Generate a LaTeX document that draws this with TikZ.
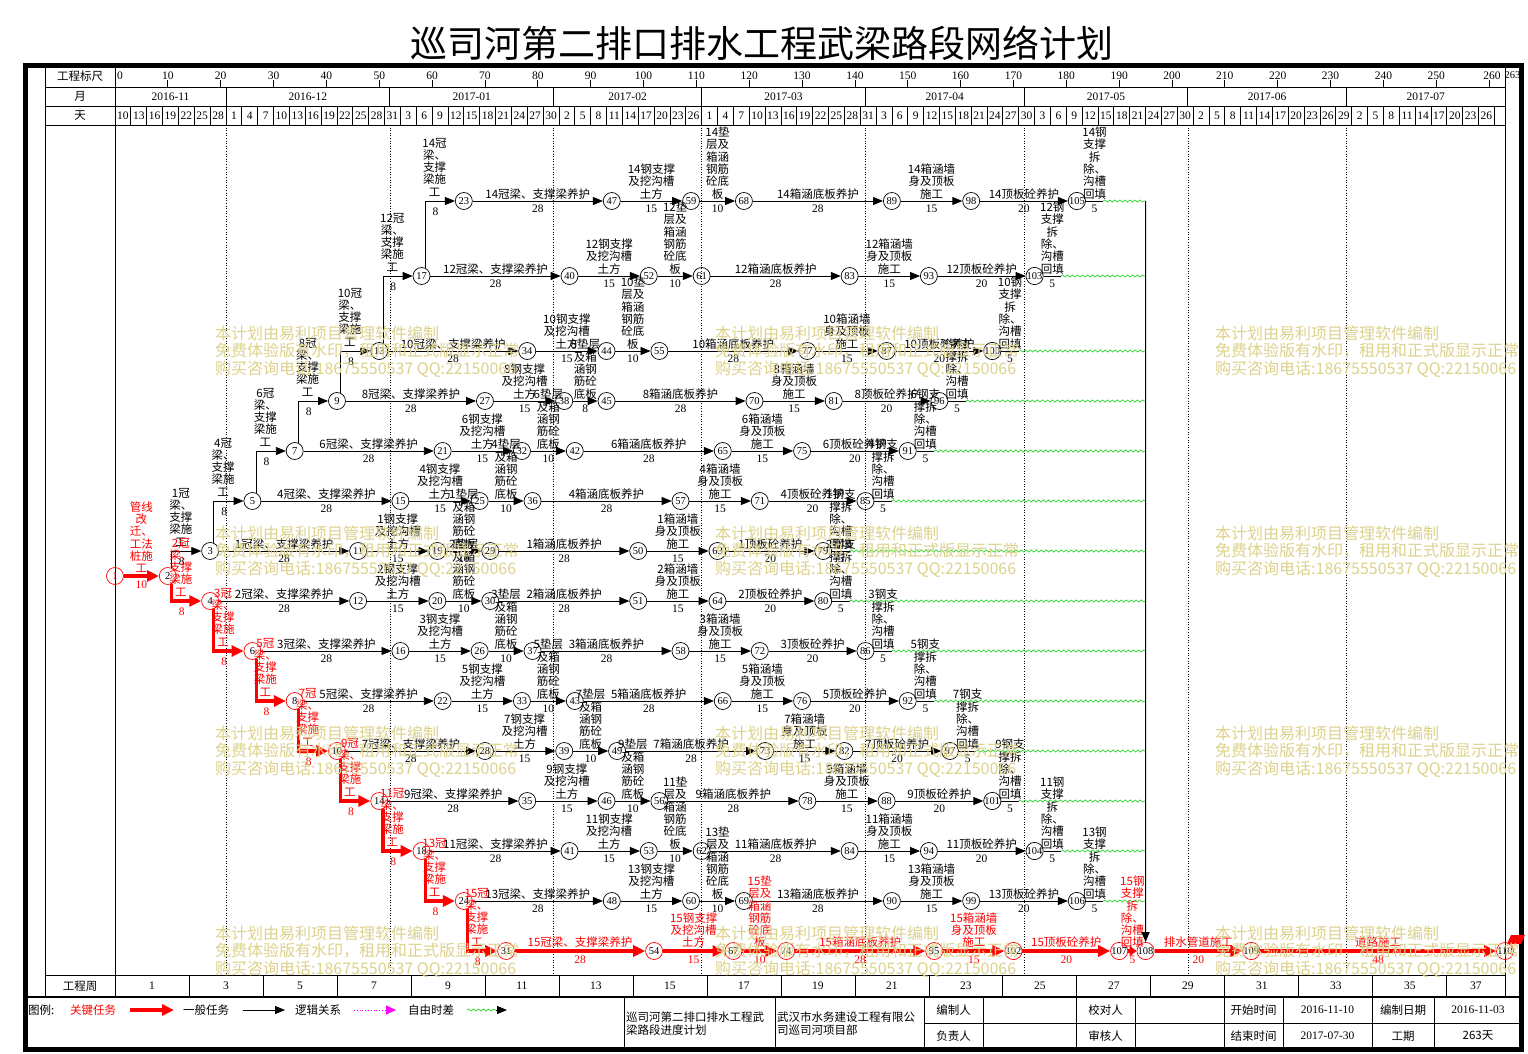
\documentclass[tikz,border=0pt]{standalone}
\usepackage{fontspec}
\setmainfont{Noto Sans CJK SC}
\newfontfamily\numf{Liberation Serif}
\usetikzlibrary{arrows.meta,decorations.pathmorphing,calc,shapes.geometric}
\definecolor{crit}{RGB}{255,0,0}
\definecolor{wmk}{RGB}{221,210,140}
\definecolor{flt}{RGB}{20,210,20}
\definecolor{mag}{RGB}{255,0,255}
\newcommand\vconn[7]{%
  \draw[#1] (n#2.#4) |- (n#3);
  \node[#6,anchor=south] at ($(n#2.center|-n#3.center)+(13,-4)$) {#5};
  \node[#7] at ($(n#2.center|-n#3.center)+(14,11)$) {8};
}
\begin{document}
\begin{tikzpicture}[x=1pt,y=-1pt,
 ev/.style={circle,draw=black,line width=0.7pt,minimum size=17pt,inner sep=0pt,font=\numf\fontsize{10.5}{10.5}\selectfont},
 evc/.style={ev,draw=crit},
 act/.style={draw=black,line width=0.9pt,-{Triangle[length=10pt,width=8pt]}},
 cact/.style={draw=crit,line width=3.2pt,-{Triangle[length=12pt,width=11pt]}},
 cacts/.style={draw=crit,line width=3.2pt,-{Triangle[length=7pt,width=10pt]}},
 plain/.style={draw=black,line width=0.9pt},
 lab/.style={font=\fontsize{11.5}{12.3}\selectfont,align=center,inner sep=0.5pt},
 clab/.style={lab,text=crit},
 dur/.style={font=\numf\fontsize{11.5}{11.5}\selectfont,inner sep=0.5pt},
 cdur/.style={dur,text=crit},
 fl/.style={draw=flt,line width=0.6pt,decorate,decoration={snake,amplitude=1.1pt,segment length=5pt}},
 mline/.style={draw=black,line width=0.6pt,dotted},
 grid/.style={draw=black,line width=0.8pt},
 hdr/.style={font=\fontsize{11.5}{13}\selectfont,inner sep=0pt},
 hnum/.style={font=\numf\fontsize{11.5}{11.5}\selectfont,inner sep=0pt},
 wm/.style={font=\fontsize{16}{18}\selectfont,text=wmk,anchor=west,inner sep=0pt}]
\useasboundingbox (0,0) rectangle (1528,1054);
\fill[white] (0,0) rectangle (1528,1054);
% title
\node[font=\fontsize{37}{37}\selectfont,inner sep=0pt] (title) at (762,43) {巡司河第二排口排水工程武梁路段网络计划};
% frame and grid
\draw[line width=4.5pt] (25.5,65.5) rectangle (1521.5,1049.5);
\draw[grid] (45,65) -- (45,997);
\draw[grid] (115,65) -- (115,997);
\draw[grid] (1505,65) -- (1505,997);
\draw[grid] (45,87) -- (1505,87);
\draw[grid] (45,106) -- (1505,106);
\draw[grid] (45,125) -- (1505,125);
\draw[grid] (45,975) -- (1505,975);
\draw[line width=2.5pt] (25,997) -- (1522,997);
\node[hdr] (h1) at (80,76.5) {工程标尺};
\node[hdr] (h2) at (80,96.5) {月};
\node[hdr] (h3) at (80,115.5) {天};
\node[hdr] (h4) at (80,986) {工程周};
% scale
\foreach \v in {10,20,...,250}{\pgfmathsetmacro\xx{115+5.285*\v}
  \draw[grid] (\xx,80) -- (\xx,87); \node[hnum] at (\xx,75.5) {\v};}
\draw[grid] ({115+5.285*260},80) -- ({115+5.285*260},87);
\node[hnum] at ({115+5.285*260+3},75.5) {260};
\node[hnum,anchor=west] at (117,75.5) {0};
\node[hnum,anchor=west,font=\numf\fontsize{10.5}{10.5}\selectfont] at (1504.5,75.5) {263};
% months
\foreach \a/\b/\lab in {0/21/2016-11,21/52/2016-12,52/83/2017-01,83/111/2017-02,111/142/2017-03,142/172/2017-04,172/203/2017-05,203/233/2017-06,233/263/2017-07}{
  \pgfmathsetmacro\xl{115+5.285*\a}\pgfmathsetmacro\xr{115+5.285*\b}
  \node[hnum] at ({(\xl+\xr)/2},96.5) {\lab};
  \draw[grid] (\xr,87) -- (\xr,106);}
\foreach \b in {21,52,83,111,142,172,203,233}{\pgfmathsetmacro\xr{115+5.285*\b}
  \draw[mline] (\xr,125) -- (\xr,975);}
% days
\foreach \lab [count=\i from 0] in {10,13,16,19,22,25,28,1,4,7,10,13,16,19,22,25,28,31,3,6,9,12,15,18,21,24,27,30,2,5,8,11,14,17,20,23,26,1,4,7,10,13,16,19,22,25,28,31,3,6,9,12,15,18,21,24,27,30,3,6,9,12,15,18,21,24,27,30,2,5,8,11,14,17,20,23,26,29,2,5,8,11,14,17,20,23,26}{
  \pgfmathsetmacro\xl{115+5.285*3*\i}\pgfmathsetmacro\xr{\xl+5.285*3}
  \node[hnum] at ({(\xl+\xr)/2},115.5) {\lab};
  \draw[grid] (\xr,106) -- (\xr,125);}
% weeks
\foreach \w [count=\i from 0] in {1,3,...,37}{
  \pgfmathsetmacro\xl{115+73.99*\i}\pgfmathsetmacro\xr{min(\xl+73.99,1505)}
  \node[hnum] at ({(\xl+\xr)/2},986) {\w};
  \draw[grid] (\xl,975) -- (\xl,997);}
% network rows
\foreach \sn/\y/\dd/\dz/\ma/\mb/\mc/\md/\me/\mf/\mg/\crt in {
 1/551/18/10/3/11/19/29/50/63/79/0,
 2/601/18/10/4/12/20/30/51/64/80/1,
 3/651/26/10/6/16/26/37/58/72/86/1,
 4/501/26/10/5/15/25/36/57/71/85/0,
 5/701/34/10/8/22/33/43/66/76/92/1,
 6/451/34/10/7/21/32/42/65/75/91/0,
 7/751/42/10/10/28/39/49/73/82/97/1,
 8/401/42/8/9/27/38/45/70/81/96/0,
 9/801/50/10/14/35/46/56/78/88/101/1,
 10/351/50/10/13/34/44/55/77/87/100/0,
 11/851/58/10/18/41/53/62/84/94/104/1,
 12/276/58/10/17/40/52/61/83/93/103/0,
 13/901/66/10/24/48/60/69/90/99/106/1,
 14/201/66/10/23/47/59/68/89/98/105/0}{
  \pgfmathsetmacro\xa{115+5.285*\dd}
  \pgfmathsetmacro\xb{\xa+5.285*28}
  \pgfmathsetmacro\xc{\xb+5.285*15}
  \pgfmathsetmacro\xd{\xc+5.285*\dz}
  \pgfmathsetmacro\xe{\xd+5.285*28}
  \pgfmathsetmacro\xf{\xe+5.285*15}
  \pgfmathsetmacro\xg{\xf+5.285*20}
  \pgfmathsetmacro\xh{\xg+5.285*5}
  \ifnum\crt=1 \tikzset{rs/.style={evc}}\else\tikzset{rs/.style={ev}}\fi
  \ifnum\sn<10
    \def\labC{\sn{}垫层\\及箱\\涵钢\\筋砼\\底板}%
    \def\labG{\sn{}钢支\\撑拆\\除、\\沟槽\\回填}%
  \else
    \def\labC{\sn{}垫\\层及\\箱涵\\钢筋\\砼底\\板}%
    \def\labG{\sn{}钢\\支撑\\拆\\除、\\沟槽\\回填}%
  \fi
  \node[rs] (n\ma) at (\xa,\y) {\ma};
  \node[ev] (n\mb) at (\xb,\y) {\mb};
  \node[ev] (n\mc) at (\xc,\y) {\mc};
  \node[ev] (n\md) at (\xd,\y) {\md};
  \node[ev] (n\me) at (\xe,\y) {\me};
  \node[ev] (n\mf) at (\xf,\y) {\mf};
  \node[ev] (n\mg) at (\xg,\y) {\mg};
  \coordinate (e\sn) at (\xh,\y);
  \coordinate (w\sn) at (1145.6,\y);
  \draw[act] (n\ma) -- node[lab,above=1pt]{\sn{}冠梁、支撑梁养护} node[dur,below=3pt]{28} (n\mb);
  \draw[act] (n\mb) -- node[lab,above=1pt]{\sn{}钢支撑\\及挖沟槽\\土方} node[dur,below=3pt]{15} (n\mc);
  \draw[act] (n\mc) -- node[lab,above=1pt]{\labC} node[dur,below=3pt]{\dz} (n\md);
  \draw[act] (n\md) -- node[lab,above=1pt]{\sn{}箱涵底板养护} node[dur,below=3pt]{28} (n\me);
  \draw[act] (n\me) -- node[lab,above=1pt]{\sn{}箱涵墙\\身及顶板\\施工} node[dur,below=3pt]{15} (n\mf);
  \draw[act] (n\mf) -- node[lab,above=1pt]{\sn{}顶板砼养护} node[dur,below=3pt]{20} (n\mg);
  \draw[plain] (n\mg) -- node[lab,above=1pt]{\labG} node[dur,below=3pt]{5} (e\sn);
  \draw[fl] (e\sn) -- (w\sn);
}
% start nodes and critical row
\node[evc,text=crit] (n1) at (115,576) {1};
\node[evc] (n2) at ({115+5.285*10},576) {2};
\node[evc] (n31) at ({115+5.285*74},951) {31};
\node[evc] (n54) at ({115+5.285*102},951) {54};
\node[evc] (n67) at ({115+5.285*117},951) {67};
\node[evc] (n74) at ({115+5.285*127},951) {74};
\node[evc] (n95) at ({115+5.285*155},951) {95};
\node[evc] (n102) at ({115+5.285*170},951) {102};
\node[evc] (n107) at ({115+5.285*190},951) {107};
\node[evc] (n108) at ({115+5.285*195},951) {108};
\node[evc] (n109) at ({115+5.285*215},951) {109};
\node[evc] (n110) at ({115+5.285*263},951) {110};
\draw[cact] (n1) -- node[clab,above=1pt]{管线\\改\\迁、\\工法\\桩施\\工} node[cdur,below=3pt]{10} (n2);
\draw[cact] (n31) -- node[clab,above=1pt]{15冠梁、支撑梁养护} node[cdur,below=3pt]{28} (n54);
\draw[cact] (n54) -- node[clab,above=1pt]{15钢支撑\\及挖沟槽\\土方} node[cdur,below=3pt]{15} (n67);
\draw[cact] (n67) -- node[clab,above=1pt]{15垫\\层及\\箱涵\\钢筋\\砼底\\板} node[cdur,below=3pt]{10} (n74);
\draw[cact] (n74) -- node[clab,above=1pt]{15箱涵底板养护} node[cdur,below=3pt]{28} (n95);
\draw[cact] (n95) -- node[clab,above=1pt]{15箱涵墙\\身及顶板\\施工} node[cdur,below=3pt]{15} (n102);
\draw[cact] (n102) -- node[clab,above=1pt]{15顶板砼养护} node[cdur,below=3pt]{20} (n107);
\draw[cacts] (n107) -- node[clab,above=1pt]{15钢\\支撑\\拆\\除、\\沟槽\\回填} node[cdur,below=3pt]{5} (n108);
\draw[cact] (n108) -- node[clab,above=1pt]{排水管道施工} node[cdur,below=3pt]{20} (n109);
\draw[cact] (n109) -- node[clab,above=1pt]{道路施工} node[cdur,below=3pt]{48} (n110);
\fill[crit] (1511,935) -- (1525,935) -- (1521,944) -- (1507,944) -- cycle;
\coordinate (ftop) at (1145.6,201);
\draw[act] (ftop) -- (n108);
% vertical connectors
\vconn{act}{2}{3}{65}{1冠\\梁、\\支撑\\梁施\\工}{lab}{dur}
\vconn{act}{3}{5}{65}{4冠\\梁、\\支撑\\梁施\\工}{lab}{dur}
\vconn{act}{5}{7}{65}{6冠\\梁、\\支撑\\梁施\\工}{lab}{dur}
\vconn{act}{7}{9}{65}{8冠\\梁、\\支撑\\梁施\\工}{lab}{dur}
\vconn{act}{9}{13}{65}{10冠\\梁、\\支撑\\梁施\\工}{lab}{dur}
\vconn{act}{13}{17}{65}{12冠\\梁、\\支撑\\梁施\\工}{lab}{dur}
\vconn{act}{17}{23}{65}{14冠\\梁、\\支撑\\梁施\\工}{lab}{dur}
\vconn{cact}{2}{4}{-65}{2冠\\梁、\\支撑\\梁施\\工}{clab}{cdur}
\vconn{cact}{4}{6}{-65}{3冠\\梁、\\支撑\\梁施\\工}{clab}{cdur}
\vconn{cact}{6}{8}{-65}{5冠\\梁、\\支撑\\梁施\\工}{clab}{cdur}
\vconn{cact}{8}{10}{-65}{7冠\\梁、\\支撑\\梁施\\工}{clab}{cdur}
\vconn{cact}{10}{14}{-65}{9冠\\梁、\\支撑\\梁施\\工}{clab}{cdur}
\vconn{cact}{14}{18}{-65}{11冠\\梁、\\支撑\\梁施\\工}{clab}{cdur}
\vconn{cact}{18}{24}{-65}{13冠\\梁、\\支撑\\梁施\\工}{clab}{cdur}
\vconn{cact}{24}{31}{-65}{15冠\\梁、\\支撑\\梁施\\工}{clab}{cdur}
% legend
\node[hdr,anchor=west] (lg0) at (28,1010) {图例:};
\node[hdr,anchor=west,text=crit] (lg1) at (70,1010) {关键任务};
\coordinate (la1) at (130,1010); \coordinate (la2) at (174,1010);
\draw[cact] (la1) -- (la2);
\node[hdr,anchor=west] (lg2) at (183,1010) {一般任务};
\coordinate (lb1) at (243,1010); \coordinate (lb2) at (285,1010);
\draw[act] (lb1) -- (lb2);
\node[hdr,anchor=west] (lg3) at (295,1010) {逻辑关系};
\coordinate (lc1) at (354,1010); \coordinate (lc2) at (396,1010);
\draw[draw=mag,dotted,line width=0.8pt,-{Triangle[length=10pt,width=9pt,fill=mag]}] (lc1) -- (lc2);
\node[hdr,anchor=west] (lg4) at (408,1010) {自由时差};
\coordinate (ld1) at (467,1010); \coordinate (ld2) at (496,1010); \coordinate (ld3) at (507,1010);
\draw[fl] (ld1) -- (ld2);
\draw[act] (ld2) -- (ld3);
% info table
\foreach \xx in {624,775,924,983,1076,1135,1224,1283,1372,1434}{\draw[grid] (\xx,997) -- (\xx,1049);}
\draw[grid] (924,1023) -- (1521,1023);
\node[hdr,anchor=west,align=left] (t1) at (626,1023.5) {巡司河第二排口排水工程武\\梁路段进度计划};
\node[hdr,anchor=west,align=left] (t2) at (777,1023.5) {武汉市水务建设工程有限公\\司巡司河项目部};
\node[hdr] (t3) at (953.5,1010) {编制人};
\node[hdr] (t4) at (953.5,1036) {负责人};
\node[hdr] (t5) at (1105.5,1010) {校对人};
\node[hdr] (t6) at (1105.5,1036) {审核人};
\node[hdr] (t7) at (1253.5,1010) {开始时间};
\node[hdr] (t8) at (1253.5,1036) {结束时间};
\node[hnum] (t9) at (1327.5,1010) {2016-11-10};
\node[hnum] (t10) at (1327.5,1036) {2017-07-30};
\node[hdr] (t11) at (1403,1010) {编制日期};
\node[hdr] (t12) at (1403,1036) {工期};
\node[hnum] (t13) at (1478,1010) {2016-11-03};
\node[hdr] (t14) at (1478,1036) {263天};
% watermarks
\foreach \wx in {215,715,1215}{\foreach \wy in {333,533,733,933}{
  \node[wm] at (\wx,\wy) {本计划由易利项目管理软件编制};
  \node[wm] at (\wx,\wy+18) {免费体验版有水印，租用和正式版显示正常};
  \node[wm] at (\wx,\wy+36) {购买咨询电话:18675550537 QQ:22150066};}}
\end{tikzpicture}
\end{document}
